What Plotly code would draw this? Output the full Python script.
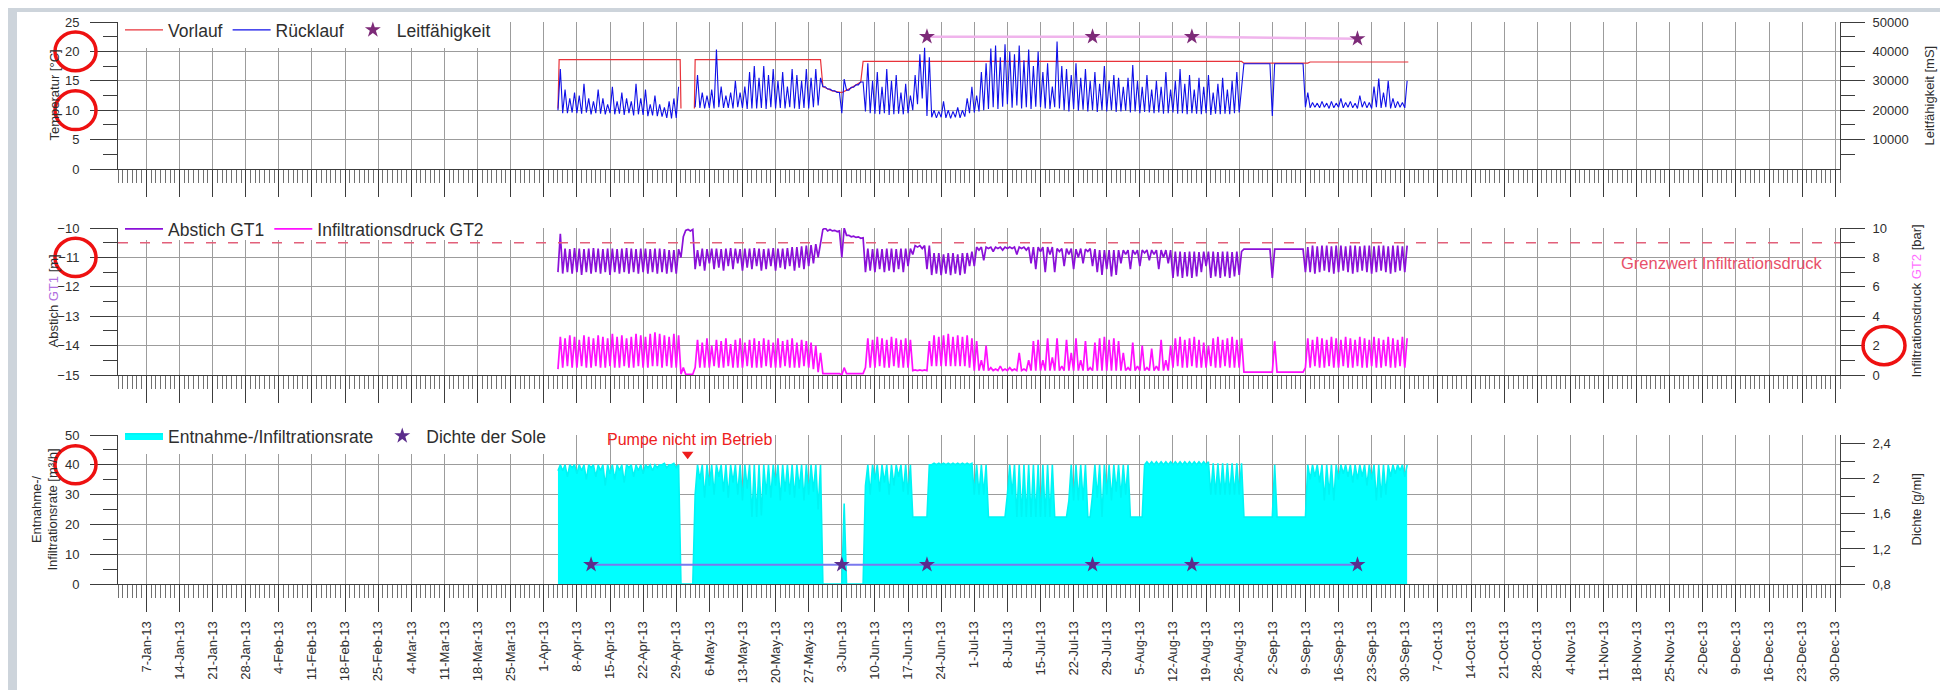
import pandas as pd
import plotly.graph_objects as go

# ------------------------------------------------------------------ data
N = None
days = pd.date_range("2013-04-01", "2013-09-30", freq="D")   # one row = one week (Mon..Sun)

# Rücklauf [°C] : daily low / daily peak
ruecklauf_lo = [
    N, N, N, 10.0, 9.5, 9.5, 9.6,
    9.5, 9.4, 9.6, 9.3, 9.5, 9.4, 9.3,
    9.5, 9.3, 9.4, 9.2, 9.5, 9.1, 9.3,
    9.2, 9.0, 9.1, 9.0, 8.9, 8.7, 8.6,
    8.7, N, N, N, 10.5, 10.4, 10.3,
    10.4, 10.3, 10.5, 10.4, 10.4, 10.3, 10.5,
    10.4, 10.2, 10.3, 10.3, 10.4, 10.2, 10.5,
    10.3, 10.4, 10.3, 10.5, 10.3, 10.2, 10.4,
    10.3, 10.5, 10.8, 14.0, 13.6, 13.3, 13.0,
    9.5, 13.4, 13.9, 14.3, 14.8, 9.8, 9.5,
    9.4, 9.3, 9.5, 9.2, 9.3, 9.4, 9.3,
    9.5, 10.0, 11.0, 12.0, 9.0, 8.8, 8.7,
    8.8, 8.7, 8.6, 8.8, 8.7, 8.9, 9.5,
    9.6, 9.8, 10.0, 10.2, 10.5, 10.2, 10.6,
    11.0, 10.4, 10.8, 10.3, 10.5, 10.2, 10.6,
    10.5, 10.3, 10.2, 10.5, 10.3, 10.0, 9.8,
    10.2, 9.9, 10.1, 9.8, 10.0, 9.7, 10.0,
    9.8, 10.0, 9.7, 9.8, 9.9, 9.6, 9.8,
    9.5, 9.7, 9.6, 9.5, 9.6, 9.4, 9.5,
    9.6, 9.4, 9.5, 9.3, 9.5, 9.4, 9.3,
    9.5, 9.2, 9.4, 9.3, 9.4, 9.3, 9.5,
    9.6, 17.9, 17.9, 17.9, 17.9, 17.9, 17.9,
    9.0, 17.9, 17.9, 17.9, 17.9, 17.9, 17.9,
    10.5, 10.4, 10.5, 10.4, 10.5, 10.3, 10.4,
    10.5, 10.4, 10.5, 10.4, 10.3, 10.5, 10.4,
    10.3, 10.5, 10.4, 10.5, 10.3, 10.4, 10.5,
    10.4]
ruecklauf_hi = [
    N, N, N, 17.0, 13.5, 12.0, 13.0,
    12.5, 14.5, 12.0, 11.5, 13.5, 12.0, 11.0,
    14.0, 11.5, 13.0, 12.0, 11.5, 14.5, 12.0,
    13.5, 11.0, 12.5, 11.0, 10.5, 11.5, 12.0,
    14.0, N, N, N, 16.0, 13.0, 12.5,
    13.5, 20.3, 14.0, 12.5, 13.0, 15.0, 13.0,
    14.0, 16.5, 17.5, 15.5, 17.5, 16.0, 17.0,
    15.0, 16.5, 14.0, 17.0, 16.0, 15.0, 17.0,
    15.5, 17.0, 15.5, 14.0, 13.6, 13.3, 13.0,
    15.3, 13.4, 13.9, 14.3, 14.8, 18.0, 15.0,
    16.5, 14.0, 17.0, 15.0, 16.0, 13.0, 14.5,
    12.5, 16.0, 19.5, 20.6, 19.0, 10.0, 9.8,
    11.5, 10.0, 9.8, 10.5, 10.0, 12.0, 14.0,
    12.5, 16.5, 18.0, 20.5, 21.0, 19.0, 21.2,
    20.0, 19.5, 21.0, 18.5, 20.3, 17.5, 20.0,
    16.5, 18.0, 14.0, 21.7, 17.5, 17.0, 16.0,
    18.0, 15.5, 17.0, 15.0, 16.5, 14.5, 17.5,
    15.0, 16.0, 15.5, 14.0, 15.5, 17.7, 15.0,
    14.0, 16.0, 13.5, 15.0, 14.0, 16.5, 13.5,
    15.0, 17.0, 14.5, 16.0, 13.5, 15.5, 14.0,
    16.0, 13.0, 14.5, 15.5, 13.5, 15.0, 16.5,
    14.0, 17.9, 17.9, 17.9, 17.9, 17.9, 17.9,
    17.9, 17.9, 17.9, 17.9, 17.9, 17.9, 17.9,
    13.0, 11.3, 11.2, 11.5, 11.2, 11.5, 11.2,
    12.0, 11.3, 11.5, 11.2, 12.5, 11.5, 11.3,
    14.0, 15.4, 13.0, 15.0, 12.0, 11.5, 11.3,
    15.0]

# Vorlauf [°C] : breakpoints of the almost flat supply temperature
vorlauf_t = ["2013-04-04 00:00", "2013-04-04 06:00", "2013-04-29 20:00", "2013-04-30 00:00", N,
             "2013-05-02 20:00", "2013-05-03 00:00", "2013-05-29 12:00", "2013-05-30 00:00",
             "2013-06-01 00:00", "2013-06-03 00:00", "2013-06-05 00:00", "2013-06-07 00:00",
             "2013-06-07 12:00", "2013-08-26 12:00", "2013-08-27 00:00", "2013-09-09 12:00",
             "2013-09-10 00:00", "2013-09-30 18:00"]
vorlauf_v = [10.3, 18.6, 18.6, 10.3, N, 10.3, 18.6, 18.6, 14.0, 13.3, 13.0, 13.8, 14.8,
             18.3, 18.3, 18.0, 18.0, 18.2, 18.2]

# Leitfähigkeit [mS]
leit_dates = ["2013-06-21", "2013-07-26", "2013-08-16", "2013-09-20"]
leit_vals = [45000, 45000, 45000, 44300]

# Abstich GT1 [m] : daily low / daily high
abstich_lo = [
    N, N, N, -11.5, -11.55, -11.5, -11.55,
    -11.5, -11.6, -11.5, -11.55, -11.5, -11.55, -11.5,
    -11.6, -11.5, -11.55, -11.5, -11.55, -11.5, -11.55,
    -11.5, -11.55, -11.5, -11.55, -11.5, -11.55, -11.5,
    -11.55, -11.0, -10.08, -10.1, -11.4, -11.3, -11.45,
    -11.2, -11.4, -11.35, -11.45, -11.3, -11.4, -11.2,
    -11.45, -11.35, -11.4, -11.3, -11.45, -11.4, -11.3,
    -11.45, -11.35, -11.4, -11.3, -11.45, -11.35, -11.4,
    -11.3, -11.2, -11.0, -10.05, -10.1, -10.1, -10.12,
    -11.0, -10.25, -10.3, -10.32, -10.35, -11.5, -11.45,
    -11.5, -11.4, -11.5, -11.45, -11.5, -11.4, -11.5,
    -11.3, -10.9, -10.65, -10.7, -11.4, -11.6, -11.55,
    -11.6, -11.55, -11.6, -11.55, -11.6, -11.55, -11.3,
    -11.3, -10.75, -11.1, -10.7, -10.8, -10.7, -10.75,
    -10.7, -10.7, -10.9, -10.7, -10.75, -11.2, -11.4,
    -10.8, -11.5, -10.9, -11.5, -10.8, -11.3, -10.9,
    -11.4, -11.0, -11.2, -10.8, -11.3, -11.5, -11.6,
    -11.4, -11.65, -11.6, -11.2, -10.9, -11.4, -10.9,
    -11.3, -10.85, -11.1, -10.9, -11.4, -11.0, -11.2,
    -11.7, -11.65, -11.7, -11.65, -11.7, -11.65, -11.5,
    -11.3, -11.7, -11.65, -11.7, -11.65, -11.7, -11.65,
    -11.6, -10.72, -10.72, -10.72, -10.72, -10.72, -10.72,
    -11.7, -10.72, -10.72, -10.72, -10.72, -10.72, -10.72,
    -11.5, -11.5, -11.55, -11.5, -11.45, -11.5, -11.55,
    -11.5, -11.45, -11.5, -11.55, -11.5, -11.45, -11.5,
    -11.55, -11.5, -11.45, -11.5, -11.55, -11.5, -11.45,
    -11.5]
abstich_hi = [
    N, N, N, -10.2, -10.7, -10.72, -10.68,
    -10.7, -10.72, -10.7, -10.68, -10.7, -10.72, -10.7,
    -10.7, -10.72, -10.7, -10.68, -10.7, -10.72, -10.7,
    -10.7, -10.72, -10.7, -10.7, -10.72, -10.75, -10.75,
    -10.72, -10.3, -10.05, -10.05, -10.75, -10.7, -10.72,
    -10.7, -10.7, -10.72, -10.7, -10.68, -10.7, -10.72,
    -10.7, -10.7, -10.68, -10.7, -10.72, -10.7, -10.68,
    -10.7, -10.7, -10.68, -10.65, -10.65, -10.62, -10.6,
    -10.58, -10.55, -10.5, -10.0, -10.05, -10.08, -10.1,
    -10.0, -10.25, -10.28, -10.3, -10.33, -10.7, -10.72,
    -10.7, -10.72, -10.7, -10.7, -10.72, -10.7, -10.7,
    -10.7, -10.6, -10.6, -10.6, -10.6, -10.85, -10.85,
    -10.9, -10.85, -10.85, -10.9, -10.85, -10.85, -10.8,
    -10.65, -10.65, -10.65, -10.65, -10.65, -10.65, -10.65,
    -10.65, -10.65, -10.65, -10.65, -10.65, -10.65, -10.65,
    -10.65, -10.65, -10.65, -10.7, -10.7, -10.7, -10.7,
    -10.72, -10.7, -10.72, -10.7, -10.72, -10.75, -10.75,
    -10.75, -10.75, -10.75, -10.75, -10.75, -10.75, -10.75,
    -10.75, -10.75, -10.75, -10.75, -10.75, -10.75, -10.75,
    -10.8, -10.8, -10.82, -10.8, -10.8, -10.82, -10.8,
    -10.8, -10.8, -10.82, -10.8, -10.8, -10.82, -10.8,
    -10.8, -10.72, -10.72, -10.72, -10.72, -10.72, -10.72,
    -10.72, -10.72, -10.72, -10.72, -10.72, -10.72, -10.72,
    -10.65, -10.6, -10.62, -10.6, -10.6, -10.62, -10.6,
    -10.6, -10.62, -10.6, -10.6, -10.62, -10.6, -10.6,
    -10.62, -10.6, -10.6, -10.62, -10.6, -10.6, -10.62,
    -10.6]

# Infiltrationsdruck GT2 [bar] : daily low / daily high
druck_lo = [
    N, N, N, 0.4, 0.5, 0.6, 0.5,
    0.5, 0.6, 0.5, 0.5, 0.6, 0.5, 0.5,
    0.6, 0.5, 0.5, 0.6, 0.5, 0.5, 0.6,
    0.5, 0.5, 0.6, 0.6, 0.5, 0.6, 0.5,
    0.5, 0.05, 0.05, 0.05, 0.5, 0.5, 0.5,
    0.5, 0.6, 0.5, 0.5, 0.6, 0.5, 0.5,
    0.5, 0.6, 0.5, 0.5, 0.5, 0.6, 0.5,
    0.5, 0.5, 0.6, 0.5, 0.5, 0.5, 0.6,
    0.5, 0.4, 0.2, 0.1, 0.1, 0.1, 0.1,
    0.0, 0.1, 0.1, 0.1, 0.1, 0.5, 0.5,
    0.5, 0.6, 0.5, 0.5, 0.6, 0.5, 0.5,
    0.5, 0.3, 0.3, 0.3, 0.3, 0.6, 0.6,
    0.6, 0.6, 0.6, 0.6, 0.6, 0.6, 0.5,
    0.3, 0.3, 0.3, 0.3, 0.3, 0.3, 0.3,
    0.3, 0.3, 0.3, 0.3, 0.3, 0.3, 0.3,
    0.3, 0.3, 0.3, 0.3, 0.3, 0.3, 0.3,
    0.3, 0.3, 0.3, 0.3, 0.3, 0.3, 0.3,
    0.3, 0.3, 0.3, 0.3, 0.3, 0.3, 0.3,
    0.3, 0.3, 0.3, 0.3, 0.3, 0.3, 0.3,
    0.5, 0.6, 0.5, 0.5, 0.6, 0.5, 0.5,
    0.5, 0.6, 0.5, 0.5, 0.6, 0.5, 0.5,
    0.5, 0.2, 0.2, 0.2, 0.2, 0.2, 0.2,
    0.2, 0.2, 0.2, 0.2, 0.2, 0.2, 0.2,
    0.5, 0.5, 0.6, 0.5, 0.5, 0.6, 0.5,
    0.5, 0.6, 0.5, 0.5, 0.6, 0.5, 0.5,
    0.6, 0.5, 0.5, 0.6, 0.5, 0.5, 0.6,
    0.5]
druck_hi = [
    N, N, N, 2.6, 2.5, 2.7, 2.6,
    2.4, 2.7, 2.6, 2.5, 2.7, 2.6, 2.5,
    2.8, 2.6, 2.7, 2.5, 2.6, 2.8, 2.7,
    2.6, 2.8, 2.9, 2.8, 2.7, 2.6, 2.8,
    2.7, 0.5, 0.05, 0.05, 2.4, 2.2, 2.5,
    2.0, 2.4, 2.3, 2.5, 2.1, 2.4, 2.5,
    2.2, 2.4, 2.5, 2.3, 2.5, 2.4, 2.2,
    2.5, 2.3, 2.4, 2.5, 2.2, 2.4, 2.3,
    2.2, 2.0, 1.5, 0.1, 0.1, 0.1, 0.1,
    0.5, 0.1, 0.1, 0.1, 0.1, 2.5, 2.4,
    2.6, 2.5, 2.4, 2.6, 2.5, 2.4, 2.5,
    2.4, 0.35, 0.35, 0.35, 2.3, 2.7, 2.6,
    2.7, 2.8, 2.6, 2.7, 2.6, 2.7, 2.5,
    2.3, 1.0, 2.0, 0.5, 0.4, 0.6, 0.4,
    0.5, 0.4, 1.5, 0.4, 1.0, 2.3, 2.4,
    1.0, 2.5, 1.2, 2.5, 0.6, 2.4, 1.5,
    2.5, 1.0, 2.3, 0.5, 2.2, 2.5, 2.6,
    2.4, 2.5, 2.3, 1.5, 0.5, 2.2, 0.6,
    2.0, 0.5, 1.8, 0.6, 2.4, 1.0, 2.0,
    2.5, 2.6, 2.4, 2.5, 2.6, 2.4, 2.2,
    2.0, 2.5, 2.6, 2.4, 2.5, 2.6, 2.4,
    2.5, 0.2, 0.2, 0.2, 0.2, 0.2, 0.2,
    2.3, 0.2, 0.2, 0.2, 0.2, 0.2, 0.2,
    2.5, 2.4, 2.6, 2.5, 2.4, 2.6, 2.5,
    2.4, 2.6, 2.5, 2.4, 2.6, 2.5, 2.4,
    2.6, 2.5, 2.4, 2.6, 2.5, 2.4, 2.6,
    2.5]
grenzwert_bar = 9

# Entnahme-/Infiltrationsrate [m³/h] : daily low / daily high
rate_lo = [
    N, N, N, 38, 38, 36, 39,
    37, 38, 35, 39, 36, 38, 33,
    37, 35, 38, 34, 39, 36, 38,
    37, 39, 38, 39, 40, 39, 40,
    39, 0, 0, 0, 30, 35, 29,
    33, 30, 36, 31, 29, 34, 30,
    28, 32, 22.5, 22.5, 23, 30, 29,
    33, 28, 31, 30, 29, 32, 28,
    30, 31, 25, 0, 0, 0, 0,
    0, 0, 0, 0, 0, 33, 30,
    35, 31, 34, 30, 33, 36, 31,
    30, 22.5, 22.5, 22.5, 22.5, 40, 40,
    40, 40, 40, 40, 40, 40, 40,
    30, 30, 30, 22.5, 22.5, 22.5, 22.5,
    30, 30, 22.5, 22.5, 22.5, 22.5, 22.5,
    22.5, 22.5, 22.5, 22.5, 22.5, 22.5, 28,
    28, 28, 28, 22.5, 30, 29, 22.5,
    30, 28, 31, 29, 30, 22.5, 22.5,
    22.5, 40, 40, 40, 40, 40, 40,
    40, 40, 40, 40, 40, 40, 40,
    40, 30, 30, 30, 30, 30, 30,
    30, 22.5, 22.5, 22.5, 22.5, 22.5, 22.5,
    22.5, 22.5, 22.5, 22.5, 22.5, 22.5, 22.5,
    22.5, 35, 36, 34, 28, 30, 28,
    35, 37, 36, 34, 35, 36, 33,
    35, 28, 29, 30, 36, 37, 38,
    36]
rate_hi = [
    N, N, N, 40, 40, 40, 40,
    40, 40, 40, 40, 40, 40, 40,
    40, 40, 40, 40, 40, 40, 40,
    40, 40, 40, 40, 40.5, 40, 40.5,
    40, 0, 0, 0, 40, 40, 40,
    40, 40, 40, 40, 40, 40, 40,
    40, 40, 40, 40, 40, 40, 40,
    40, 40, 40, 40, 40, 40, 40,
    40, 40, 40, 0, 0, 0, 0,
    27, 0, 0, 0, 0, 40, 40,
    40, 40, 40, 40, 40, 40, 40,
    40, 22.5, 22.5, 22.5, 40, 40.5, 40.5,
    40.5, 40.5, 40.5, 40.5, 40.5, 40.5, 40.5,
    40, 40, 40, 22.5, 22.5, 22.5, 22.5,
    40, 40, 40, 40, 40, 40, 40,
    40, 40, 40, 22.5, 22.5, 22.5, 40,
    40, 40, 40, 22.5, 40, 40, 40,
    40, 40, 40, 40, 40, 22.5, 22.5,
    22.5, 41, 41, 41, 41, 41, 41,
    41, 41, 41, 41, 41, 41, 41,
    41, 40.5, 40.5, 40.5, 40.5, 40.5, 40.5,
    40.5, 22.5, 22.5, 22.5, 22.5, 22.5, 22.5,
    40, 22.5, 22.5, 22.5, 22.5, 22.5, 22.5,
    40, 40, 40, 40, 40, 40, 40,
    40, 40, 40, 40, 40, 40, 40,
    40, 40, 40, 40, 40, 40, 40,
    40]

# Dichte der Sole [g/ml]
dichte_dates = ["2013-04-11", "2013-06-03", "2013-06-21", "2013-07-26", "2013-08-16", "2013-09-20"]
dichte_vals = [1.02, 1.02, 1.02, 1.02, 1.02, 1.02]

# "Pumpe nicht im Betrieb" marker
pumpe_date = ["2013-05-01 10:00"]
pumpe_y = [43.5]

# ------------------------------------------------------------------ helpers
W, H = 1948, 690
FONT = "Liberation Sans, Arial, sans-serif"
TXT = "#2e2e2e"
GRID = "#9c9c9c"
AX = "#3c3c3c"
X0, X1 = 110, 1832
P1, P2, P3 = (14, 161), (220, 367), (427, 576)


def fx(p):
    return p / W


def fy(p):
    return 1 - p / H


def zigzag(lo, hi):
    xs, ys = [], []
    for d, a, b in zip(days, lo, hi):
        if a is None:
            xs.append(d)
            ys.append(None)
        else:
            xs += [d, d + pd.Timedelta(hours=12)]
            ys += [a, b]
    return xs, ys


fig = go.Figure()

# ---- top panel
fig.add_trace(go.Scatter(x=vorlauf_t, y=vorlauf_v, mode="lines", name="Vorlauf",
                         line=dict(color="#e8333a", width=1.2), xaxis="x", yaxis="y", legend="legend"))
rx, ry = zigzag(ruecklauf_lo, ruecklauf_hi)
fig.add_trace(go.Scatter(x=rx, y=ry, mode="lines", name="Rücklauf",
                         line=dict(color="#1010e8", width=1.1), xaxis="x", yaxis="y", legend="legend"))
fig.add_trace(go.Scatter(x=leit_dates, y=leit_vals, mode="lines", showlegend=False,
                         line=dict(color="#f0b4ec", width=2.5), xaxis="x", yaxis="y2"))
fig.add_trace(go.Scatter(x=leit_dates, y=leit_vals, mode="markers", name="Leitfähigkeit",
                         marker=dict(symbol="star", size=12, color="#7d2a78"), xaxis="x", yaxis="y2",
                         legend="legend"))

# ---- middle panel
ax_, ay_ = zigzag(abstich_lo, abstich_hi)
fig.add_trace(go.Scatter(x=ax_, y=ay_, mode="lines", name="Abstich GT1",
                         line=dict(color="#8a10d8", width=1.7), xaxis="x2", yaxis="y3", legend="legend2"))
dx, dy = zigzag(druck_lo, druck_hi)
fig.add_trace(go.Scatter(x=dx, y=dy, mode="lines", name="Infiltrationsdruck GT2",
                         line=dict(color="#ff10ff", width=1.7), xaxis="x2", yaxis="y4", legend="legend2"))

# ---- bottom panel
ex, ey = zigzag(rate_lo, rate_hi)
fig.add_trace(go.Scatter(x=ex, y=ey, mode="lines", name="Entnahme-/Infiltrationsrate", fill="tozeroy",
                         fillcolor="#00ffff", line=dict(color="#00f4f4", width=1.6), xaxis="x3", yaxis="y5",
                         legend="legend3"))
fig.add_trace(go.Scatter(x=dichte_dates, y=dichte_vals, mode="lines", showlegend=False,
                         line=dict(color="#7a78ee", width=2), xaxis="x3", yaxis="y6"))
fig.add_trace(go.Scatter(x=dichte_dates, y=dichte_vals, mode="markers", name="Dichte der Sole",
                         marker=dict(symbol="star", size=12, color="#5b2d8c"), xaxis="x3", yaxis="y6",
                         legend="legend3"))
fig.add_trace(go.Scatter(x=pumpe_date, y=pumpe_y, mode="markers", showlegend=False,
                         marker=dict(symbol="triangle-down", size=10, color="#ee1c1c"),
                         xaxis="x3", yaxis="y5"))

# ------------------------------------------------------------------ axes
tickfont = dict(family=FONT, size=13, color=TXT)
titlefont = dict(family=FONT, size=13, color=TXT)


def xaxis(anchor, labels):
    return dict(type="date", range=["2013-01-01", "2013-12-31"], domain=[fx(X0), fx(X1)], anchor=anchor,
                tick0="2013-01-07", dtick=7 * 86400000, ticks="outside", ticklen=27, tickwidth=1,
                tickcolor=AX, showgrid=True, gridcolor=GRID, gridwidth=1,
                minor=dict(ticks="outside", ticklen=13, dtick=86400000, tick0="2013-01-07",
                           tickcolor="#707070", tickwidth=1, showgrid=False),
                showline=True, linecolor=AX, linewidth=1, zeroline=False,
                showticklabels=labels, tickformat="%-d-%b-%y", tickangle=-90, tickfont=tickfont,
                ticklabelstandoff=4, automargin=False)


def yaxis(dom, anchor, rng, side="left", overlaying=None, grid=True, **kw):
    right = side == "right"
    d = dict(domain=[fy(dom[1]), fy(dom[0])], anchor=anchor, range=rng, side=side,
             ticks="outside", ticklen=24 if right else 27, tickwidth=1, tickcolor=AX, showline=True,
             linecolor=AX, linewidth=1, showgrid=grid, gridcolor=GRID, gridwidth=1, zeroline=False,
             tickfont=tickfont, ticklabelstandoff=5 if right else 8, automargin=False,
             exponentformat="none", separatethousands=False)
    if overlaying:
        d["overlaying"] = overlaying
    d.update(kw)
    return d


def mnr(**kw):
    return dict(ticks="outside", ticklen=14, tickcolor=AX, showgrid=False, **kw)


fig.update_layout(
    width=W, height=H, margin=dict(l=0, r=0, t=0, b=0),
    paper_bgcolor="white", plot_bgcolor="white",
    font=dict(family=FONT, color=TXT),
    xaxis=xaxis("y", False), xaxis2=xaxis("y3", False), xaxis3=xaxis("y5", True),
    yaxis=yaxis(P1, "x", [0, 25], dtick=5, minor=mnr(dtick=2.5)),
    yaxis2=yaxis(P1, "x", [0, 50000], side="right", overlaying="y", grid=False,
                 tickmode="array", tickvals=[10000, 20000, 30000, 40000, 50000],
                 ticktext=["10000", "20000", "30000", "40000", "50000"],
                 minor=mnr(tickvals=[5000, 15000, 25000, 35000, 45000])),
    yaxis3=yaxis(P2, "x2", [-15, -10], dtick=1, minor=mnr(dtick=0.5)),
    yaxis4=yaxis(P2, "x2", [0, 10], side="right", overlaying="y3", grid=False, dtick=2,
                 minor=mnr(dtick=1)),
    yaxis5=yaxis(P3, "x3", [0, 50], dtick=10, minor=mnr(dtick=5)),
    yaxis6=yaxis(P3, "x3", [0.8, 2.5], side="right", overlaying="y5", grid=False,
                 tickmode="array", tickvals=[0.8, 1.2, 1.6, 2.0, 2.4],
                 ticktext=["0,8", "1,2", "1,6", "2", "2,4"],
                 minor=mnr(tickvals=[1.0, 1.4, 1.8, 2.2])),
)

legend_common = dict(orientation="h", xanchor="left", yanchor="top",
                     font=dict(family=FONT, size=17.5, color=TXT), itemwidth=38, borderwidth=0)
fig.update_layout(
    legend=dict(x=fx(112), y=fy(4), bgcolor="white", **legend_common),
    legend2=dict(x=fx(112), y=fy(203), bgcolor="rgba(0,0,0,0)", **legend_common),
    legend3=dict(x=fx(112), y=fy(410), bgcolor="white", **legend_common),
)

# ------------------------------------------------------------------ axis titles
def vtitle(text, xpx, dom):
    fig.add_annotation(text=text, xref="paper", x=fx(xpx), yref="paper", y=fy((dom[0] + dom[1]) / 2),
                       textangle=-90, showarrow=False, font=titlefont, xanchor="center", yanchor="middle")


vtitle("Temperatur [°C]", 46, P1)
vtitle("Abstich <span style='color:#b070e0'>GT1</span> [m]", 45, P2)
vtitle("Entnahme-/<br>Infiltrationsrate [m³/h]", 36, P3)
vtitle("Leitfähigkeit [mS]", 1921, P1)
vtitle("Infiltrationsdruck <span style='color:#ff70ff'>GT2</span> [bar]", 1908, P2)
vtitle("Dichte [g/ml]", 1908, P3)

# ------------------------------------------------------------------ annotations & shapes
fig.add_annotation(text="Grenzwert Infiltrationsdruck", xref="paper", x=fx(1817), xanchor="right",
                   yref="paper", y=fy(255), yanchor="middle", showarrow=False,
                   font=dict(family=FONT, size=16.5, color="#e8506a"))
fig.add_annotation(text="Pumpe nicht im Betrieb", xref="x3", x="2013-05-02 00:00", yref="paper",
                   y=fy(431), yanchor="middle", showarrow=False,
                   font=dict(family=FONT, size=16, color="#ee2020"))

shapes = [
    dict(type="rect", xref="paper", yref="paper", x0=0, x1=fx(9), y0=0, y1=1,
         fillcolor="#cdd4db", line=dict(width=0), layer="above"),
    dict(type="rect", xref="paper", yref="paper", x0=0, x1=1, y0=fy(4), y1=1,
         fillcolor="#cdd4db", line=dict(width=0), layer="above"),
    # white backing of the middle legend (hides grid, keeps the dashed limit line visible)
    dict(type="rect", xref="paper", yref="paper", x0=fx(111), x1=fx(505), y0=fy(232), y1=fy(218),
         fillcolor="white", line=dict(width=0), layer="above"),
    dict(type="line", xref="paper", x0=fx(X0), x1=fx(X1), yref="y4", y0=grenzwert_bar, y1=grenzwert_bar,
         line=dict(color="#e2607a", width=1.5, dash="10px,12px"), layer="above"),
]
# red highlight rings around some tick labels
rings = [("y", 20, 3.3, 47, 88), ("y", 10, 3.3, 47, 88), ("y3", -11, 0.65, 47, 88),
         ("y5", 40, 6.4, 47, 88), ("y4", 2, 1.3, 1855, 1897)]
for ref, v, h, xa, xb in rings:
    shapes.append(dict(type="circle", xref="paper", x0=fx(xa), x1=fx(xb), yref=ref, y0=v - h, y1=v + h,
                       line=dict(color="#ee1111", width=3.5), layer="above"))
fig.update_layout(shapes=shapes)

fig.write_html("out.html")
